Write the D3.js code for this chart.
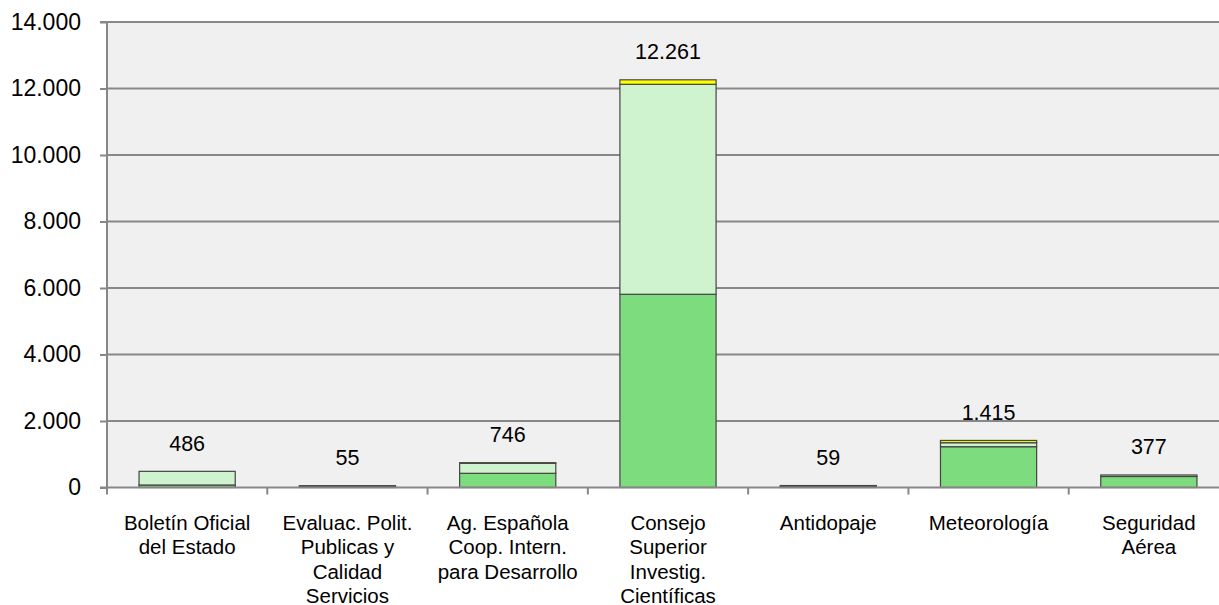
<!DOCTYPE html>
<html>
<head>
<meta charset="utf-8">
<script src="https://cdn.jsdelivr.net/npm/d3@7"></script>
<style>
html, body { margin: 0; padding: 0; background: #ffffff; }
svg { display: block; font-family: "Liberation Sans", Arial, sans-serif; }
</style>
</head>
<body>
<svg id="chart" width="1219" height="605"></svg>
<script>
const categories = ["Boletín Oficial del Estado", "Evaluac. Polit. Publicas y Calidad Servicios",
  "Ag. Española Coop. Intern. para Desarrollo", "Consejo Superior Investig. Científicas",
  "Antidopaje", "Meteorología", "Seguridad Aérea"];
const categoryLines = [
  ["Boletín Oficial", "del Estado"],
  ["Evaluac. Polit.", "Publicas y", "Calidad", "Servicios"],
  ["Ag. Española", "Coop. Intern.", "para Desarrollo"],
  ["Consejo", "Superior", "Investig.", "Científicas"],
  ["Antidopaje"],
  ["Meteorología"],
  ["Seguridad", "Aérea"]
];
const seriesDark = [75, 30, 427, 5811, 30, 1227, 331];
const seriesLight = [411, 25, 300, 6315, 29, 120, 46];
const seriesYellow = [0, 0, 19, 135, 0, 68, 0];
const totals = [486, 55, 746, 12261, 59, 1415, 377];
const yTicks = [0, 2000, 4000, 6000, 8000, 10000, 12000, 14000];

const seriesColors = ["#7ddc7d", "#cff2cf", "#ffff00"];

const svg = d3.select("#chart");
const pLeft = 107, pRight = 1229, pTop = 22, pBottom = 487.5;

const x = d3.scaleBand().domain(categories).range([pLeft, pRight]).paddingInner(0.4).paddingOuter(0.2);
const y = d3.scaleLinear().domain([0, 14000]).range([pBottom, pTop]);

// plot background
svg.append("rect").attr("x", pLeft).attr("y", pTop).attr("width", pRight - pLeft).attr("height", pBottom - pTop)
  .attr("fill", "#f0f0f0");

// gridlines
svg.append("g").selectAll("line").data(yTicks.filter(d => d > 0)).join("line")
  .attr("x1", pLeft).attr("x2", pRight)
  .attr("y1", d => y(d)).attr("y2", d => y(d))
  .attr("stroke", "#878787").attr("stroke-width", 2);

// stacked data
const table = categories.map((c, i) => ({ cat: c, dark: seriesDark[i], light: seriesLight[i], yellow: seriesYellow[i] }));
const stack = d3.stack().keys(["dark", "light", "yellow"])(table);

svg.append("g").selectAll("g").data(stack).join("g")
  .attr("fill", (d, i) => seriesColors[i])
  .selectAll("rect").data(d => d.filter(s => s[1] - s[0] > 0)).join("rect")
  .attr("x", d => x(d.data.cat))
  .attr("width", x.bandwidth())
  .attr("y", d => y(d[1]))
  .attr("height", d => y(d[0]) - y(d[1]))
  .attr("stroke", "#454545").attr("stroke-width", 1.2);

// y axis
const yAxis = d3.axisLeft(y).tickValues(yTicks).tickSize(7).tickPadding(19)
  .tickFormat(d => d3.format(",")(d).replace(/,/g, "."));
const ya = svg.append("g").attr("transform", `translate(${pLeft},0)`).call(yAxis);
ya.select(".domain").attr("stroke", "#878787").attr("stroke-width", 2).attr("d", `M-7,${pTop}H0V${pBottom}H-7`);
ya.selectAll(".tick line").attr("stroke", "#878787").attr("stroke-width", 2);
ya.selectAll(".tick text").attr("font-size", 23).attr("fill", "#000").attr("font-family", "Liberation Sans, Arial, sans-serif");

// x axis
const xa = svg.append("g").attr("transform", `translate(0,${pBottom})`);
xa.append("line").attr("x1", pLeft).attr("x2", pRight).attr("y1", 0).attr("y2", 0)
  .attr("stroke", "#878787").attr("stroke-width", 2);
const bounds = categories.map(c => x(c) - x.step() * x.paddingInner() / 2);
bounds.push(pRight);
xa.selectAll("line.sep").data(bounds).join("line").attr("class", "sep")
  .attr("x1", d => d).attr("x2", d => d).attr("y1", 0).attr("y2", 7)
  .attr("stroke", "#878787").attr("stroke-width", 2);

// category labels
const labelG = svg.append("g");
categories.forEach((c, i) => {
  const cx = x(c) + x.bandwidth() / 2;
  const t = labelG.append("text").attr("x", cx).attr("y", 530).attr("text-anchor", "middle")
    .attr("font-size", 20.5).attr("fill", "#000");
  categoryLines[i].forEach((ln, j) => {
    t.append("tspan").attr("x", cx).attr("dy", j === 0 ? 0 : 24.3).text(ln);
  });
});

// value labels
svg.append("g").selectAll("text").data(categories).join("text")
  .attr("x", c => x(c) + x.bandwidth() / 2)
  .attr("y", (c, i) => y(totals[i]) - 28)
  .attr("dy", "0.35em")
  .attr("text-anchor", "middle").attr("font-size", 21.5).attr("fill", "#000")
  .text((c, i) => d3.format(",")(totals[i]).replace(/,/g, "."));
</script>
</body>
</html>
